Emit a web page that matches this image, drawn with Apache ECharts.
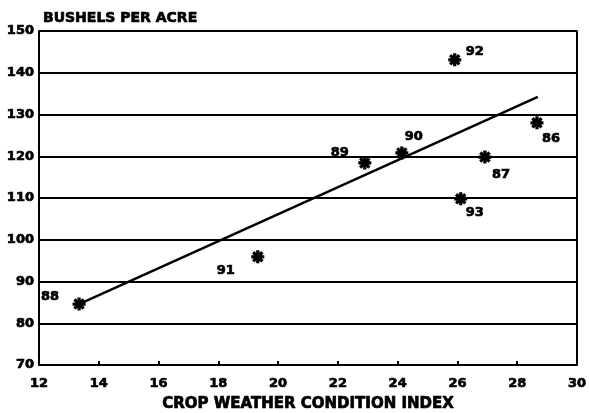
<!DOCTYPE html>
<html><head><meta charset="utf-8">
<script src="https://cdn.jsdelivr.net/npm/echarts@6/dist/echarts.min.js"></script>
<style>html,body{margin:0;padding:0;background:#fff}#c{width:589px;height:413px}</style>
</head><body><div id="c"></div>
<script>
const years = ['88','91','89','90','92','93','87','86'];
const cwci = [13.34, 19.32, 22.9, 24.14, 25.91, 26.11, 26.92, 28.66];
const yields = [84.6, 95.9, 118.4, 120.8, 143.1, 109.8, 119.8, 128.0];
const trendX = [13.34, 28.69];
const trendY = [84.6, 134.2];
const xTicks = [12,14,16,18,20,22,24,26,28,30];
const yTicks = [70,80,90,100,110,120,130,140,150];

const labelPos = {'88':[-29,-7],'91':[-32,14],'89':[-25,-10],'90':[12,-16],'92':[20,-8],'93':[14,14],'87':[16,18],'86':[14,16]};

function asteriskPath(){
  let p='';
  const w=0.25;
  for(const a of [0,45,90,135]){
    const t=a*Math.PI/180, dx=Math.cos(t), dy=Math.sin(t), nx=-dy*w, ny=dx*w;
    const pts=[[dx+nx,dy+ny],[-dx+nx,-dy+ny],[-dx-nx,-dy-ny],[dx-nx,dy-ny]];
    p+='M'+pts.map(q=>(q[0]*10+10).toFixed(2)+' '+(q[1]*10+10).toFixed(2)).join('L')+'Z';
  }
  return 'path://'+p;
}
const font = '"DejaVu Sans", sans-serif';
const heavy = {fontFamily:font,fontWeight:'bold',color:'#000',textBorderColor:'#000',textBorderWidth:0.7};
const chart = echarts.init(document.getElementById('c'));
chart.setOption({
  animation:false,
  title:{text:'BUSHELS PER ACRE',left:38,top:6,textStyle:Object.assign({},heavy,{fontSize:14})},
  grid:{left:39,right:12,top:31,bottom:48,outerBoundsMode:'none',containLabel:false},
  xAxis:{type:'value',min:12,max:30,interval:2,
    name:'CROP WEATHER CONDITION INDEX',nameLocation:'middle',nameGap:32,
    nameTextStyle:Object.assign({},heavy,{fontSize:15}),
    axisLine:{lineStyle:{color:'#000',width:2}},
    axisTick:{inside:true,length:4,lineStyle:{color:'#000',width:2}},
    axisLabel:Object.assign({},heavy,{fontSize:13,margin:12,
      formatter:v=>xTicks.includes(v)?String(v):''}),
    splitLine:{show:false}},
  yAxis:{type:'value',min:70,max:150,interval:10,
    axisLine:{show:true,lineStyle:{color:'#000',width:2}},
    axisTick:{show:false},
    axisLabel:Object.assign({},heavy,{fontSize:13,margin:5,
      formatter:v=>yTicks.includes(v)?String(v):''}),
    splitLine:{show:true,lineStyle:{color:'#000',width:2}}},
  series:[
    {type:'line',data:trendX.map((x,i)=>[x,trendY[i]]),symbol:'none',
      lineStyle:{color:'#000',width:2.5},z:3},
    {type:'scatter',data:cwci.map((x,i)=>({value:[x,yields[i]],name:years[i],
      label:Object.assign({show:true,formatter:years[i],position:'inside',offset:labelPos[years[i]],fontSize:13},heavy)})),
      symbol:asteriskPath(),symbolSize:13,itemStyle:{color:'#000',opacity:1},z:4},
    {type:'line',data:[[30,70],[30,150],[12,150]],symbol:'none',lineStyle:{color:'#000',width:2},silent:true,z:2}
  ]
});
</script></body></html>
